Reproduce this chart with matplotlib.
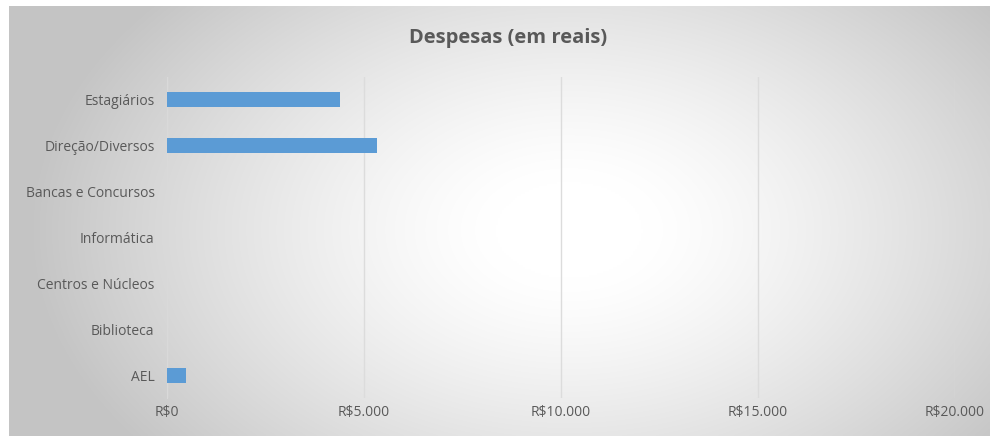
import numpy as np
import matplotlib
matplotlib.use("Agg")
import matplotlib.pyplot as plt
from matplotlib.ticker import FuncFormatter

categories = ["AEL", "Biblioteca", "Centros e Núcleos", "Informática",
              "Bancas e Concursos", "Direção/Diversos", "Estagiários"]
values = [480, 0, 0, 0, 0, 5320, 4380]
x_ticks = [0, 5000, 10000, 15000, 20000]
title = "Despesas (em reais)"

W, H = 990, 436
fig = plt.figure(figsize=(W / 100, H / 100), dpi=100)
fig.patch.set_facecolor("white")

# radial gradient background
bg = fig.add_axes([9 / W, 0, 1 - 9 / W, 1 - 6 / H])
bg.set_axis_off()
ny, nx = 215, 490
yy, xx = np.mgrid[0:ny, 0:nx]
cx, cy = nx * 0.57, ny * 0.52
r = np.sqrt(((xx - cx) / (nx * 0.5)) ** 2 + ((yy - cy) / (ny * 0.75)) ** 2)
r = np.clip(r, 0, 1.2)
v = 1.0 - 0.23 * np.clip((r - 0.15) / 0.95, 0, 1) ** 1.3
img = np.dstack([v, v, v])
bg.imshow(img, extent=[0, 1, 0, 1], aspect="auto", interpolation="bilinear")
bg.set_xlim(0, 1)
bg.set_ylim(0, 1)

ax = fig.add_axes([167 / W, 1 - 398 / H, (955 - 167) / W, (398 - 77) / H])
ax.patch.set_alpha(0)
y = np.arange(len(categories))
ax.barh(y, values, height=0.33, color="#5B9BD5", zorder=3)
ax.set_xlim(0, 20000)
ax.set_ylim(-0.5, len(categories) - 0.5)
ax.set_yticks(y)
ax.set_yticklabels(categories)
ax.set_xticks(x_ticks)

def fmt(v, pos):
    s = f"{int(v):,}".replace(",", ".")
    return "R$" + s
ax.xaxis.set_major_formatter(FuncFormatter(fmt))

ax.grid(axis="x", color="#dcdcdc", linewidth=1, zorder=0)
for s in ["top", "right", "bottom"]:
    ax.spines[s].set_visible(False)
ax.spines["left"].set_color("#d9d9d9")
ax.tick_params(length=0, labelsize=10, labelcolor="#595959")
ax.tick_params(axis="x", pad=5)
ax.tick_params(axis="y", pad=9)
for lab in ax.get_xticklabels() + ax.get_yticklabels():
    lab.set_family("Open Sans")

fig.text(508 / W, 1 - 38 / H, title, ha="center", va="center",
         fontsize=14.5, fontweight="bold", color="#595959", family="Open Sans")

fig.savefig("out.png", dpi=100)
